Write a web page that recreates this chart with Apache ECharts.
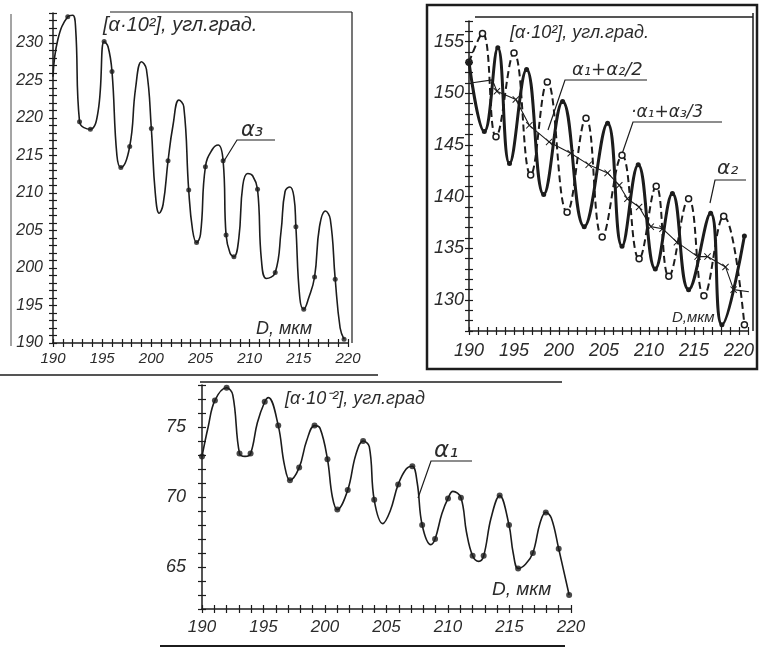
<!DOCTYPE html>
<html><head><meta charset="utf-8">
<script src="https://cdn.jsdelivr.net/npm/echarts@6/dist/echarts.min.js"></script>
<style>html,body{margin:0;padding:0;background:#fff}#c{width:760px;height:649px}</style>
</head><body><div id="c"></div>
<script>
// ---------- Chart 1 (alpha3) ----------
const alpha3D = [190.0,190.5,191.5,192.0,192.3,192.7,193.8,194.6,195.2,195.6,
  196.0,196.5,196.9,197.8,198.4,199.0,199.5,200.0,200.4,200.8,
  201.2,201.7,202.2,202.8,203.3,203.8,204.2,204.6,205.0,205.5,
  206.2,206.8,207.3,207.6,208.0,208.4,208.9,209.3,209.8,210.3,
  210.8,211.2,211.7,212.6,213.2,213.6,214.1,214.5,214.7,215.1,
  215.5,216.0,216.6,217.1,217.7,218.2,218.7,219.2,219.6];
const alpha3V = [225.5,230.5,233.5,233.7,232.0,219.5,218.5,221.0,230.2,229.5,
  226.2,215.0,213.4,216.2,224.0,227.5,226.5,218.6,210.0,207.3,
  208.5,214.3,219.0,222.4,221.5,210.4,205.0,203.4,204.5,213.5,
  215.8,216.4,214.3,204.4,202.0,201.5,204.0,211.0,212.6,212.3,
  210.5,201.0,198.6,199.4,205.0,210.2,210.8,209.5,205.5,196.0,
  194.5,196.0,198.8,205.5,207.6,206.5,198.5,192.0,190.5];
const alpha3DotD = [191.5,192.7,193.8,195.2,196.0,196.9,197.8,200.0,201.7,203.8,204.6,205.5,207.3,207.6,208.4,210.8,212.6,214.7,215.5,216.6,218.7,219.6];
const alpha3DotV = [233.5,219.5,218.5,230.2,226.2,213.4,216.2,218.6,214.3,210.4,203.4,213.5,214.3,204.4,201.5,210.5,199.4,205.5,194.5,198.8,198.5,190.5];

// ---------- Chart 2 (alpha2, alpha1+alpha3/3, alpha1+alpha2/2) ----------
const alpha2D = [190.0,191.7,193.2,194.5,196.4,198.3,200.4,202.8,205.4,207.0,208.8,210.7,212.6,214.4,216.85,218.1,220.6];
const alpha2V = [153.0,146.3,154.4,143.2,152.3,140.2,149.2,137.1,147.1,135.2,143.1,133.0,140.3,131.0,138.4,127.6,136.2];
const a13D = [190.0,191.5,193.0,195.0,196.85,198.7,200.9,203.0,204.8,207.0,208.9,210.8,212.2,214.4,216.1,218.3,220.6];
const a13V = [153.0,155.8,145.8,153.9,142.1,151.1,138.5,147.6,136.1,144.0,134.0,141.0,132.3,139.8,130.4,138.1,127.6];
const a12D = [190.2,192.6,193.1,195.2,196.7,198.9,201.3,203.3,205.4,206.7,207.6,208.9,210.2,211.5,213.1,215.4,216.5,218.5,219.4,221.1];
const a12V = [151.0,151.3,150.2,149.4,146.9,145.3,144.2,143.1,142.3,141.1,139.8,139.0,137.1,136.9,135.6,134.2,134.2,133.2,131.0,130.8];
const a12Mark = [0,0,1,1,1,1,1,1,1,1,1,1,1,1,1,1,1,1,1,1];

// ---------- Chart 3 (alpha1) ----------
const alpha1D = [190.0,190.5,191.05,192.0,192.5,193.05,193.5,193.95,194.5,195.1,195.4,196.2,196.7,197.15,197.9,198.5,199.15,199.6,200.2,200.6,
  201.0,201.85,202.5,203.1,203.6,204.0,204.7,205.3,205.95,206.6,207.1,207.5,207.9,208.6,208.95,209.5,210.0,210.4,211.05,211.5,
  212.0,212.5,212.9,213.5,214.2,214.96,215.3,215.7,216.3,216.9,217.5,217.95,218.4,219.0,219.85];
const alpha1V = [72.9,75.0,76.9,77.8,77.3,73.1,72.9,73.1,75.3,76.8,77.1,75.1,72.3,71.2,72.1,74.0,75.1,74.9,72.7,70.0,
  69.1,70.5,73.0,74.0,73.6,69.8,68.1,69.0,70.9,72.0,72.2,71.0,68.0,66.6,67.0,68.8,69.9,70.4,69.95,67.5,
  65.8,65.4,65.8,68.5,70.1,68.0,66.0,64.9,65.2,66.0,68.2,68.9,68.5,66.3,63.0];
const alpha1DotD = [190.0,191.05,192.0,193.05,193.95,195.1,196.2,197.15,197.9,199.15,200.2,201.0,201.85,203.1,204.0,205.95,207.1,207.9,208.95,210.0,211.05,212.0,212.9,214.2,214.96,215.7,216.9,217.95,219.0,219.85];
const alpha1DotV = [72.9,76.9,77.8,73.1,73.1,76.8,75.1,71.2,72.1,75.1,72.7,69.1,70.5,74.0,69.8,70.9,72.2,68.0,67.0,69.9,69.95,65.8,65.8,70.1,68.0,64.9,66.0,68.9,66.3,63.0];

// tick labels
const xTickLabels = [190,195,200,205,210,215,220];
const y1TickLabels = [190,195,200,205,210,215,220,225,230];
const y2TickLabels = [130,135,140,145,150,155];
const y3TickLabels = [65,70,75];

const INK = '#1c1c1c', TXT = '#2b2b2b', FONT = 'Liberation Sans';
const zip = (a, b) => a.map((v, i) => [v, b[i]]);

function axis(kind, gi, min, max, labels, opt) {
  const inside = !!opt.inside;
  return {
    type: 'value', gridIndex: gi, min: min, max: max, interval: 1,
    position: kind === 'x' ? 'bottom' : 'left',
    axisLine: { show: !inside, lineStyle: { color: INK, width: 1.5 } },
    axisTick: { show: true, inside: inside, length: 4, lineStyle: { color: INK, width: 1.2 } },
    minorTick: { show: false },
    splitLine: { show: false }, minorSplitLine: { show: false },
    axisLabel: { show: !inside, margin: opt.margin, fontSize: opt.fs, fontStyle: 'italic',
      fontFamily: FONT, color: TXT,
      formatter: v => labels.includes(Math.round(v * 1000) / 1000) ? String(v) : '' }
  };
}

const grids = [
  { left: 53, top: 13, width: 295, height: 330 },
  { left: 469, top: 21, width: 279, height: 310 },
  { left: 202, top: 385, width: 369, height: 224 }
];
const xr = [[190, 220], [190, 221], [190, 220]];
const yr = [[190, 234], [127, 157], [62, 78]];
const yl = [y1TickLabels, y2TickLabels, y3TickLabels];
const xo = [{ fs: 15, margin: 8 }, { fs: 18, margin: 11 }, { fs: 17, margin: 10 }];
const yo = [{ fs: 16, margin: 10 }, { fs: 18, margin: 5 }, { fs: 18, margin: 16 }];

const xAxis = [], yAxis = [];
for (let g = 0; g < 3; g++) {
  xAxis.push(axis('x', g, xr[g][0], xr[g][1], xTickLabels, xo[g]));
  xAxis.push(axis('x', g, xr[g][0], xr[g][1], xTickLabels, Object.assign({ inside: true }, xo[g])));
  yAxis.push(axis('y', g, yr[g][0], yr[g][1], yl[g], yo[g]));
  yAxis.push(axis('y', g, yr[g][0], yr[g][1], yl[g], Object.assign({ inside: true }, yo[g])));
}

const crossPath = 'path://M0,1L1,0L5,4L9,0L10,1L6,5L10,9L9,10L5,6L1,10L0,9L4,5Z';

const series = [
  { type: 'line', xAxisIndex: 0, yAxisIndex: 0, data: zip(alpha3D, alpha3V), smooth: 0.45,
    showSymbol: false, lineStyle: { color: INK, width: 1.6 }, z: 2 },
  { type: 'scatter', xAxisIndex: 0, yAxisIndex: 0, data: zip(alpha3DotD, alpha3DotV), symbolSize: 5,
    itemStyle: { color: INK }, z: 3 },

  { type: 'line', xAxisIndex: 2, yAxisIndex: 2, data: zip(alpha2D, alpha2V), smooth: 0.45,
    symbol: 'circle', symbolSize: 5, showSymbol: true, itemStyle: { color: INK },
    lineStyle: { color: INK, width: 3 }, z: 3 },
  { type: 'line', xAxisIndex: 2, yAxisIndex: 2, data: zip(a13D, a13V), smooth: 0.45,
    symbol: 'circle', symbolSize: 6, showSymbol: true,
    itemStyle: { color: '#fff', borderColor: INK, borderWidth: 1.5 },
    lineStyle: { color: INK, width: 2, type: [7, 4] }, z: 2 },
  { type: 'line', xAxisIndex: 2, yAxisIndex: 2,
    data: a12D.map((d, i) => ({ value: [d, a12V[i]], symbol: a12Mark[i] ? crossPath : 'none' })),
    smooth: false, symbolSize: 7, showSymbol: true, itemStyle: { color: INK },
    lineStyle: { color: INK, width: 1.1 }, z: 4 },

  { type: 'line', xAxisIndex: 4, yAxisIndex: 4, data: zip(alpha1D, alpha1V), smooth: 0.4,
    showSymbol: false, lineStyle: { color: INK, width: 1.6 }, z: 2 },
  { type: 'scatter', xAxisIndex: 4, yAxisIndex: 4, data: zip(alpha1DotD, alpha1DotV), symbolSize: 6,
    itemStyle: { color: INK }, z: 3 }
];

function ln(x1, y1, x2, y2, w) {
  return { type: 'line', silent: true, shape: { x1, y1, x2, y2 }, style: { stroke: INK, lineWidth: w || 1.2 } };
}
function pl(points, w) {
  return { type: 'polyline', silent: true, shape: { points }, style: { stroke: INK, lineWidth: w || 1.2, fill: null } };
}
function tx(text, x, y, fs, fam) {
  return { type: 'text', silent: true, style: { text, x, y, fontSize: fs, fontStyle: 'italic',
    fontFamily: fam || FONT, fill: TXT, verticalAlign: 'middle', align: 'left' } };
}

const graphic = [
  // chart 1 frame
  ln(110, 12, 352, 12, 1.2), ln(352, 12, 352, 343, 1.2), ln(11, 14, 11, 346, 0.8), ln(0, 375, 378, 375, 1.5),
  tx('[α·10²], угл.град.', 103, 25, 20),
  tx('D, мкм', 256, 329, 18),
  tx('α₃', 241, 131, 21, 'DejaVu Sans'), pl([[224, 161], [237, 140], [275, 140]]),
  // chart 2 frame
  { type: 'rect', silent: true, shape: { x: 427, y: 5, width: 330, height: 364 },
    style: { stroke: INK, lineWidth: 2.5, fill: null } },
  ln(475, 17, 753, 17, 1.5), ln(753, 13, 753, 331, 1.5),
  tx('[α·10²], угл.град.', 510, 33, 18),
  tx('α₁+α₂/2', 572, 70, 18, 'DejaVu Sans'), pl([[548, 130], [565, 80], [647, 80]]),
  tx('·α₁+α₃/3', 631, 113, 17, 'DejaVu Sans'), pl([[622, 154], [633, 122], [722, 122]]),
  tx('α₂', 717, 169, 20, 'DejaVu Sans'), pl([[710, 203], [715, 180], [746, 180]]),
  tx('D,мкм', 672, 318, 15),
  // chart 3 frame
  ln(200, 382, 562, 382, 1.5), ln(160, 646, 565, 646, 2),
  tx('[α·10⁻²], угл.град', 285, 399, 18),
  tx('α₁', 434, 451, 23, 'DejaVu Sans'), pl([[418, 498], [431, 461], [472, 461]]),
  tx('D, мкм', 492, 590, 19)
];

const chart = echarts.init(document.getElementById('c'));
chart.setOption({
  backgroundColor: '#ffffff',
  animation: false,
  grid: grids,
  xAxis: xAxis,
  yAxis: yAxis,
  series: series,
  graphic: graphic
});
</script></body></html>
